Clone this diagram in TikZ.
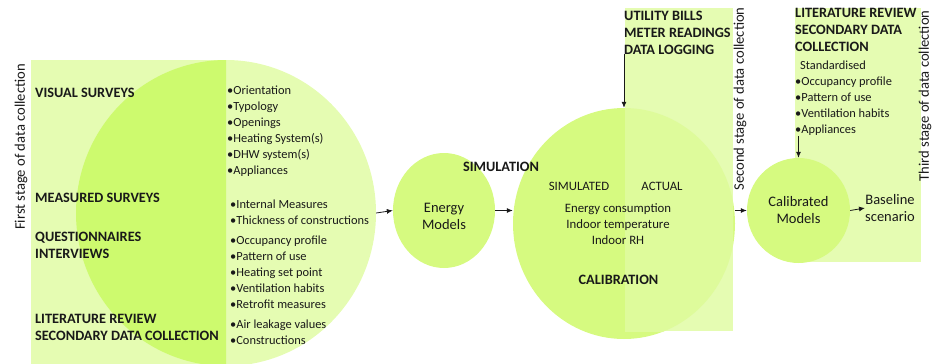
\documentclass[tikz,border=0pt]{standalone}
\usepackage{fontspec}
\setmainfont{Carlito}
\usetikzlibrary{arrows.meta,shapes.geometric}
\definecolor{pale}{RGB}{229,252,178}
\definecolor{lime}{RGB}{214,250,128}
\definecolor{limedark}{RGB}{205,250,110}
\definecolor{limemid}{RGB}{222,251,155}
\definecolor{ink}{RGB}{25,25,25}
\tikzset{
  arr/.style={-{Latex[length=6pt,width=5pt]},line width=0.8pt,ink},
  blob/.style={ellipse,inner sep=0pt,draw=none},
  head/.style={font=\fontsize{14.3}{17}\selectfont\bfseries,text=ink,inner sep=0pt,align=left,anchor=north west},
  items/.style={font=\fontsize{12.4}{16}\selectfont,text=ink,inner sep=0pt,align=left,anchor=north west},
  lbl/.style={font=\fontsize{14.5}{17}\selectfont,text=ink,inner sep=0pt,align=center},
  small/.style={font=\fontsize{12.8}{16}\selectfont,text=ink,inner sep=0pt,align=center},
  stagelbl/.style={font=\fontsize{14.6}{16}\selectfont,text=ink,inner sep=0pt,rotate=90}
}
\begin{document}
\begin{tikzpicture}[x=1pt,y=-1pt]
\useasboundingbox (0,0) rectangle (932,364);
% ---- first stage
\fill[pale] (31,60) rectangle (226,364);
\node[blob,fill=pale,minimum width=300pt,minimum height=306pt] (c1) at (226,213) {};
\begin{scope}
  \clip (31,60) rectangle (226,364);
  \fill[limedark] (226,213) ellipse [x radius=150pt,y radius=153pt];
\end{scope}
% ---- energy models
\node[blob,fill=lime,minimum width=102pt,minimum height=115pt] (em) at (444,210.5) {};
\node[lbl] (emt) at (444,216) {Energy\\Models};
% ---- second stage
\node[blob,fill=lime,minimum width=222pt,minimum height=231pt] (c2) at (624,223.5) {};
\fill[pale] (625,8) rectangle (733,331);
\begin{scope}
  \clip (625,8) rectangle (733,331);
  \fill[limemid] (624,223.5) ellipse [x radius=111pt,y radius=115.5pt];
\end{scope}
% ---- third stage
\fill[pale] (795,8) rectangle (921,262);
\node[blob,fill=lime,minimum width=103pt,minimum height=105pt,lbl] (cal) at (798.5,210.5) {Calibrated\\Models};
\node[lbl] (base) at (890,208) {Baseline\\scenario};
% ---- stage labels
\node[stagelbl] (s1) at (21,147) {First stage of data collection};
\node[stagelbl] (s2) at (740,99) {Second stage of data collection};
\node[stagelbl] (s3) at (925,96) {Third stage of data collection};
% ---- first stage texts
\node[head] (h1) at (35,88) {VISUAL SURVEYS};
\node[head] (h2) at (35,193) {MEASURED SURVEYS};
\node[head] (h3) at (35,231.5) {QUESTIONNAIRES\\INTERVIEWS};
\node[head] (h4) at (35,314.5) {LITERATURE REVIEW\\SECONDARY DATA COLLECTION};
\node[items] (l1) at (227,85.5) {•Orientation\\•Typology\\•Openings\\•Heating System(s)\\•DHW system(s)\\•Appliances};
\node[items] (l2) at (230,200) {•Internal Measures\\•Thickness of constructions};
\node[items] (l3) at (230,235.5) {•Occupancy profile\\•Pattern of use\\•Heating set point\\•Ventilation habits\\•Retrofit measures};
\node[items] (l4) at (230,319.5) {•Air leakage values\\•Constructions};
% ---- second stage texts
\node[head] (util) at (624,10.5) {UTILITY BILLS\\METER READINGS\\DATA LOGGING};
\node[head,anchor=center] (sim) at (501,167) {SIMULATION};
\node[small] (simd) at (579,186) {SIMULATED};
\node[small] (act) at (662,186) {ACTUAL};
\node[small] (vars) at (618,224) {Energy consumption\\Indoor temperature\\Indoor RH};
\node[head,anchor=center] (calib) at (618.5,280) {CALIBRATION};
% ---- third stage texts
\node[head] (lit) at (795,8.5) {LITERATURE REVIEW\\SECONDARY DATA\\COLLECTION};
\node[items] (std) at (795,61) {\hspace{5pt}Standardised\\•Occupancy profile\\•Pattern of use\\•Ventilation habits\\•Appliances};
% ---- connectors
\draw[arr] (c1.east) -- (em.west);
\draw[arr] (em.east) -- (em.east -| c2.west);
\draw[arr] (c2.east |- cal.west) -- (cal.west);
\draw[arr] (cal.east) -- (base.west);
\draw[arr] (c2.north |- util.south) -- (c2.north);
\draw[arr] (cal.north |- std.south) -- (cal.north);
\end{tikzpicture}
\end{document}
